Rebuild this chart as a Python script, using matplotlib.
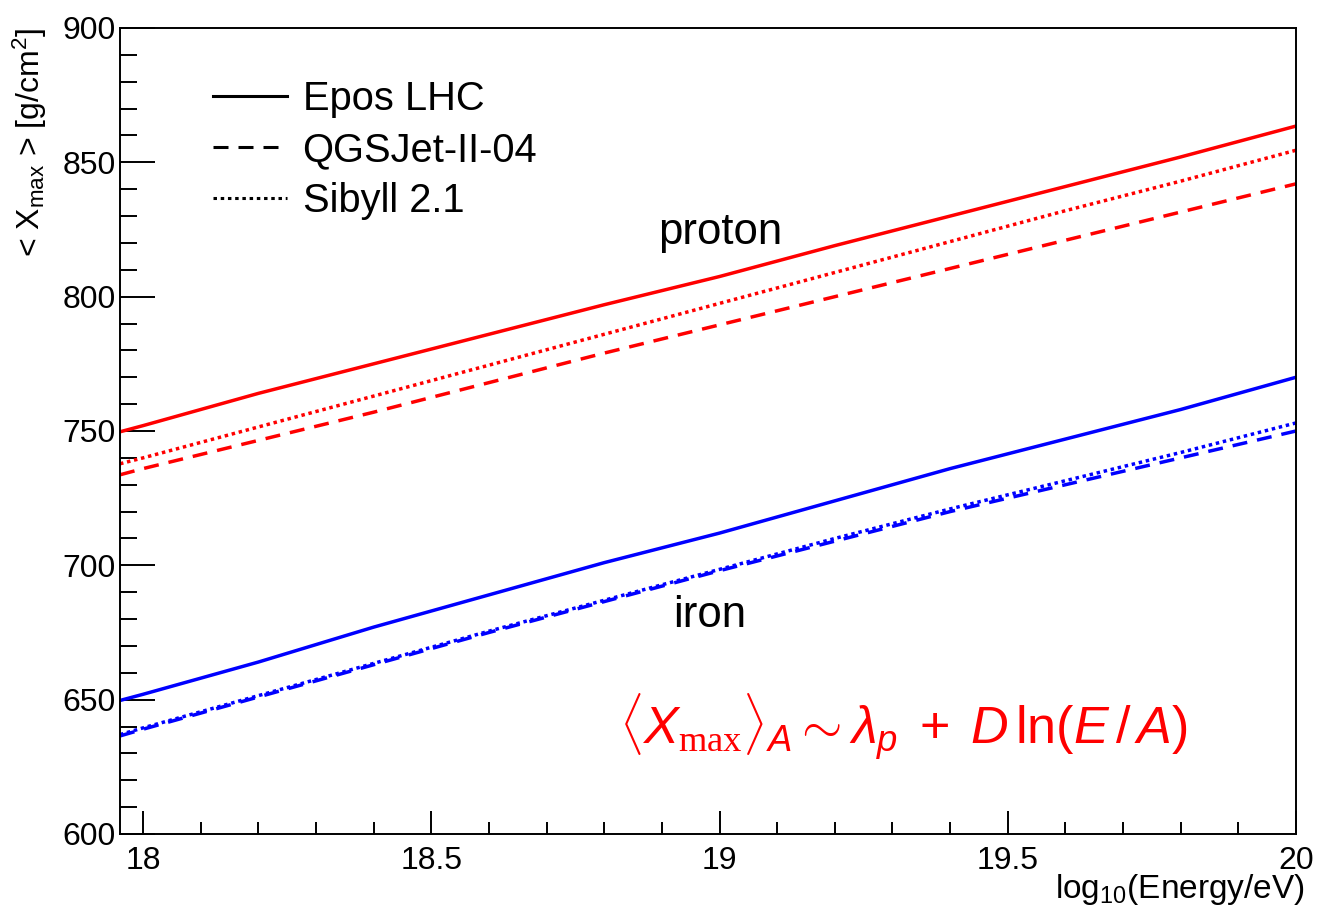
import matplotlib
matplotlib.use("Agg")
import matplotlib.pyplot as plt
from matplotlib.lines import Line2D
from matplotlib.ticker import MultipleLocator, FuncFormatter

plt.rcParams['font.family'] = ['Liberation Sans', 'DejaVu Sans']
plt.rcParams['mathtext.fontset'] = 'custom'
plt.rcParams['mathtext.rm'] = 'Liberation Sans'
plt.rcParams['mathtext.it'] = 'Liberation Sans:italic'
plt.rcParams['mathtext.tt'] = 'Liberation Serif'
plt.rcParams['lines.scale_dashes'] = False

# log10(E/eV) grid and mean depth of shower maximum [g/cm^2]
energy = [17.96, 18.0, 18.2, 18.4, 18.6, 18.8, 19.0, 19.2, 19.4, 19.6, 19.8, 20.0]
epos_p = [749.7, 752.0, 764.0, 775.0, 786.0, 797.0, 807.5, 819.0, 830.0, 841.0, 852.0, 863.5]
qgsjet_p = [733.7, 736.0, 746.5, 757.0, 768.0, 779.0, 789.5, 800.0, 810.5, 821.0, 831.5, 842.0]
sibyll_p = [737.8, 740.0, 751.5, 763.0, 774.5, 786.0, 797.5, 809.0, 820.5, 832.0, 843.0, 854.5]
epos_fe = [649.7, 652.0, 664.0, 677.0, 689.0, 701.0, 712.0, 724.0, 736.0, 747.0, 758.0, 770.0]
qgsjet_fe = [636.5, 639.0, 651.0, 663.0, 675.0, 686.5, 698.0, 709.0, 720.0, 730.0, 740.0, 750.0]
sibyll_fe = [637.0, 639.5, 651.5, 663.5, 675.5, 687.0, 698.5, 710.0, 721.0, 731.5, 742.0, 753.0]

models = ['Epos LHC', 'QGSJet-II-04', 'Sibyll 2.1']
DASHED = (0, (10.8, 7.2))
DOTTED = (0, (2.5, 2.7))
styles = ['-', DASHED, DOTTED]

fig = plt.figure(figsize=(13.17, 9.14), dpi=100)
ax = fig.add_axes([120/1317, 1-834/914, 1176/1317, 806/914])

lw = 2.5
for series, ls in zip([epos_p, qgsjet_p, sibyll_p], styles):
    ax.plot(energy, series, color='#ff0000', ls=ls, lw=lw)
for series, ls in zip([epos_fe, qgsjet_fe, sibyll_fe], styles):
    ax.plot(energy, series, color='#0000ff', ls=ls, lw=lw)

ax.set_xlim(17.96, 20.0)
ax.set_ylim(600, 900)

ax.xaxis.set_major_locator(MultipleLocator(0.5))
ax.xaxis.set_minor_locator(MultipleLocator(0.1))
ax.yaxis.set_major_locator(MultipleLocator(50))
ax.yaxis.set_minor_locator(MultipleLocator(10))
ax.xaxis.set_major_formatter(FuncFormatter(lambda v, p: f'{v:g}'))

ax.tick_params(axis='both', which='both', direction='in', width=1.4,
               top=False, right=False, labelsize=23)
ax.tick_params(axis='x', which='major', length=16.6, pad=8.5)
ax.tick_params(axis='x', which='minor', length=8.3)
ax.tick_params(axis='y', which='major', length=25, pad=3)
ax.tick_params(axis='y', which='minor', length=12.2)
for sp in ax.spines.values():
    sp.set_linewidth(1.4)

fig.text(1305/1317, 1-898/914, r'log$_{10}$(Energy/eV)', ha='right', va='baseline',
         fontsize=24)
fig.text(30/1317, 1-28/914, r'< X$_{\mathrm{max}}$ > [g/cm$^{2}$]', rotation=90,
         ha='center', va='top', fontsize=23)

ax.text(18.893, 819.5, 'proton', fontsize=31.5, ha='left', va='baseline')
ax.text(18.919, 677.1, 'iron', fontsize=31.5, ha='left', va='baseline')

ax.text(18.825, 633.7,
        r'$\langle X_{\mathtt{max}}\rangle_{A} \sim \lambda_{p}\;+\;D\,\mathrm{ln}(E\,/\,A)$',
        color='#ff0000', fontsize=37.5, ha='left', va='baseline')

handles = [Line2D([], [], color='k', ls=ls, lw=2.2) for ls in styles]
ax.legend(handles, models, loc='upper left', bbox_to_anchor=(0.079, 0.936),
          frameon=False, fontsize=28.7, borderpad=0, borderaxespad=0,
          handlelength=1.85, handletextpad=0.4, labelspacing=0.335)

fig.savefig('out.png', dpi=100)
